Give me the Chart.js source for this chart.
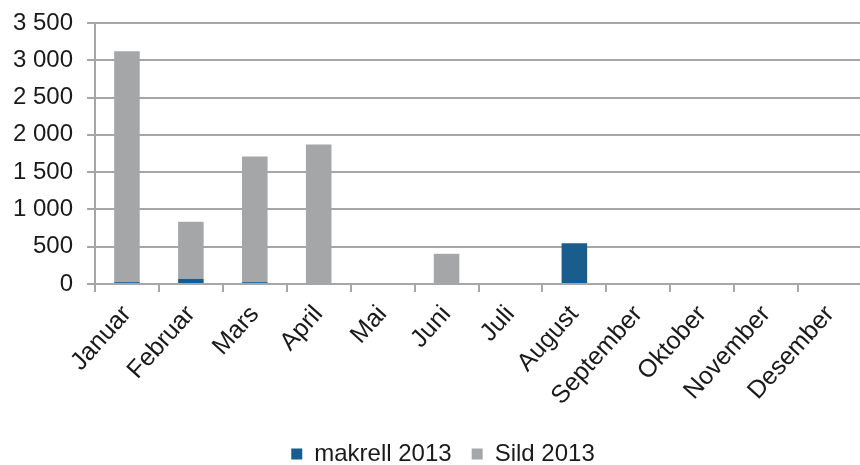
<!DOCTYPE html>
<html>
<head>
<meta charset="utf-8">
<script src="https://cdn.jsdelivr.net/npm/chart.js@4/dist/chart.umd.min.js"></script>
<style>
  html, body { margin: 0; padding: 0; background: #fff; overflow: hidden; }
  #wrap { position: relative; width: 866px; height: 465px; }
</style>
</head>
<body>
<div id="wrap"><canvas id="chart"></canvas></div>
<script>
/* ── DATA ───────────────────────────────────────────────── */
const months = ["Januar", "Februar", "Mars", "April", "Mai", "Juni", "Juli",
                "August", "September", "Oktober", "November", "Desember"];
const makrell2013 = [25, 70, 25, 0, 0, 0, 0, 545, 0, 0, 0, 0];
const sild2013    = [3095, 765, 1685, 1870, 0, 405, 0, 0, 0, 0, 0, 0];
const yTicks      = [0, 500, 1000, 1500, 2000, 2500, 3000, 3500];

/* ── STYLE ──────────────────────────────────────────────── */
const FONT  = "'Liberation Sans', Arial, sans-serif";
const GRID  = "#a6a6a6";
const TEXT  = "#1a1a1a";

function fmt(v) {
  return String(v).replace(/\B(?=(\d{3})+(?!\d))/g, " ");
}

// move the legend to where the original has it
const legendShift = {
  id: "legendShift",
  afterLayout(chart) {
    const lg = chart.legend;
    if (!lg) return;
    lg.left += 12; lg.right += 12;
    lg.top += 11;  lg.bottom += 11;
  }
};

new Chart(document.getElementById("chart"), {
  type: "bar",
  data: {
    labels: months,
    datasets: [
      { label: "makrell 2013", data: makrell2013, backgroundColor: "#195c8e",
        barPercentage: 0.4, categoryPercentage: 1 },
      { label: "Sild 2013", data: sild2013, backgroundColor: "#a5a6a8",
        barPercentage: 0.4, categoryPercentage: 1 }
    ]
  },
  plugins: [legendShift],
  options: {
    responsive: true, maintainAspectRatio: false, animation: false,
    layout: { padding: { top: 23, right: 4, left: 0, bottom: 0 } },
    plugins: {
      tooltip: { enabled: false },
      legend: {
        position: "bottom",
        labels: {
          color: TEXT, font: { family: FONT, size: 24 },
          boxWidth: 11, boxHeight: 11, padding: 20
        }
      }
    },
    scales: {
      x: {
        stacked: true,
        afterFit: s => { s.height = 127; },
        grid: { display: true, drawOnChartArea: false, drawTicks: true, tickLength: 8,
                color: GRID, lineWidth: 2, offset: true },
        border: { display: true, color: GRID, width: 2 },
        ticks: { color: TEXT, font: { family: FONT, size: 25 },
                 minRotation: 48, maxRotation: 48, autoSkip: false, padding: 8 }
      },
      y: {
        stacked: true, min: 0, max: 3500,
        afterFit: s => { s.width = 95; s.paddingTop = 0; s.paddingBottom = 0; },
        afterBuildTicks: s => { s.ticks = yTicks.map(v => ({ value: v })); },
        grid: { color: GRID, lineWidth: 2, drawTicks: true, tickLength: 8 },
        border: { display: true, color: GRID, width: 2 },
        ticks: { color: TEXT, font: { family: FONT, size: 24 }, padding: 14,
                 callback: v => fmt(v) }
      }
    }
  }
});
</script>
</body>
</html>
